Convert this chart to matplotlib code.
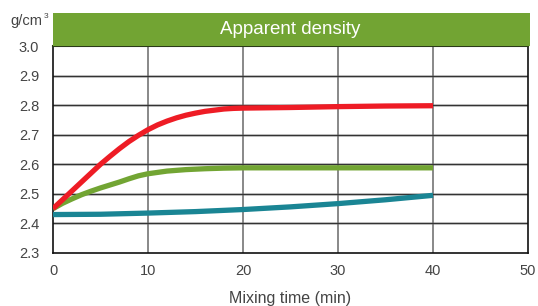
import matplotlib
matplotlib.use("Agg")
import matplotlib.pyplot as plt
from matplotlib.patches import Rectangle

plt.rcParams['font.family'] = ['Liberation Sans', 'DejaVu Sans']

x_red = [0, 1, 2, 3, 4, 5, 6, 7, 8, 9, 10, 11, 12, 13, 14, 15, 16, 17, 18, 19, 20, 25, 30, 35, 40]
red = [2.45, 2.48, 2.51, 2.54, 2.57, 2.60, 2.627, 2.653, 2.677, 2.698, 2.717, 2.733, 2.746,
       2.757, 2.766, 2.773, 2.779, 2.783, 2.787, 2.789, 2.790, 2.792, 2.795, 2.797, 2.798]
x_green = [0, 1, 2, 3, 4, 5, 6, 7, 8, 9, 10, 12, 14, 16, 18, 20, 30, 40]
green = [2.45, 2.468, 2.483, 2.497, 2.509, 2.52, 2.53, 2.54, 2.551, 2.561, 2.568, 2.577,
         2.582, 2.585, 2.587, 2.588, 2.588, 2.588]
x_teal = [0, 5, 10, 15, 20, 25, 30, 35, 40]
teal = [2.43, 2.431, 2.435, 2.44, 2.447, 2.456, 2.467, 2.48, 2.495]

xticks = [0, 10, 20, 30, 40, 50]
yticks = [2.3, 2.4, 2.5, 2.6, 2.7, 2.8, 2.9, 3.0]

W, H = 538, 306
fig = plt.figure(figsize=(W / 100, H / 100), dpi=100)
left, right, top, bottom = 53, 528, 46, 253
ax = fig.add_axes([left / W, 1 - bottom / H, (right - left) / W, (bottom - top) / H])

ax.set_xlim(0, 50)
ax.set_ylim(2.3, 3.0)
ax.set_xticks(xticks)
ax.set_yticks(yticks)
ax.set_yticklabels([f"{v:.1f}" for v in yticks])

for yv in yticks[1:-1]:
    ax.axhline(yv, color='#dddddd', lw=2.2, zorder=1)
    ax.axhline(yv, color='#333333', lw=1.0, zorder=1.1)
for xv in xticks[1:-1]:
    ax.axvline(xv, color='#888888', lw=1.4, zorder=1)

lw = 3.8
ax.plot(x_teal, teal, color='#1a8594', lw=lw, solid_capstyle='butt', zorder=3)
ax.plot(x_green, green, color='#72a533', lw=lw, solid_capstyle='butt', zorder=3)
ax.plot(x_red, red, color='#ee1c25', lw=lw, solid_capstyle='butt', zorder=4)

for s in ['left', 'bottom', 'right']:
    ax.spines[s].set_color('#111111')
    ax.spines[s].set_linewidth(1.2)
ax.spines['top'].set_color('#2a3a18')
ax.spines['top'].set_linewidth(1.5)
ax.tick_params(length=0, labelsize=10.5, labelcolor='#444444', pad=10)
ax.tick_params(axis='x', pad=8)

band_h = 33 / (bottom - top)
ax.add_patch(Rectangle((0, 1), 1.004, band_h, transform=ax.transAxes,
                       facecolor='#72a433', edgecolor='none', clip_on=False, zorder=5))
ax.text(0.5, 1 + band_h / 2, 'Apparent density', transform=ax.transAxes,
        ha='center', va='center', color='white', fontsize=13.5, zorder=6)

fig.text(10 / W, 1 - 21 / H, 'g/cm', ha='left', va='center', color='#444444', fontsize=10.5)
fig.text(44 / W, 1 - 17 / H, '3', ha='left', va='center', color='#444444', fontsize=6)
ax.set_xlabel('Mixing time (min)', fontsize=11.5, color='#444444', labelpad=9)

fig.savefig('out.png', dpi=100)
